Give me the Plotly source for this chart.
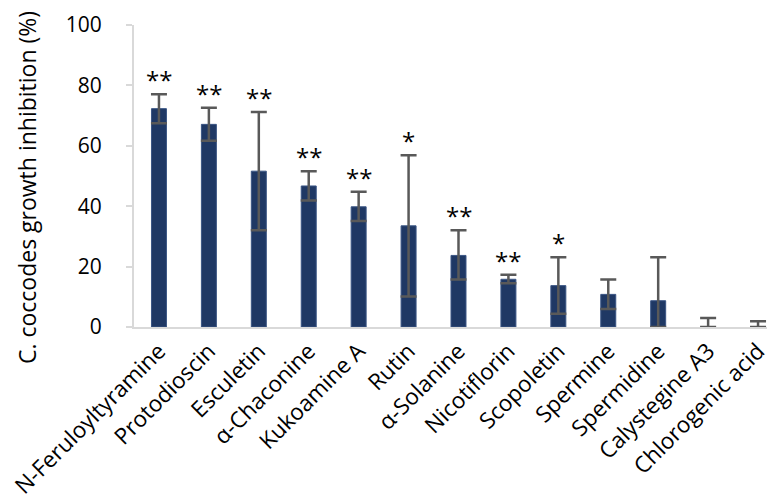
import plotly.graph_objects as go

categories = ["N-Feruloyltyramine", "Protodioscin", "Esculetin", "α-Chaconine",
              "Kukoamine A", "Rutin", "α-Solanine", "Nicotiflorin", "Scopoletin",
              "Spermine", "Spermidine", "Calystegine A3", "Chlorogenic acid"]
values = [72.3, 67.1, 51.6, 46.7, 39.8, 33.5, 23.7, 15.8, 13.7, 10.8, 8.7, 0.0, 0.0]
err_plus = [4.8, 5.5, 19.6, 4.9, 5.0, 23.4, 8.3, 1.5, 9.4, 4.9, 14.4, 3.0, 1.9]
err_minus = [4.8, 5.4, 19.6, 4.8, 4.7, 23.4, 8.0, 1.3, 9.3, 4.8, 8.7, 0.0, 0.0]
signif = ["**", "**", "**", "**", "**", "*", "**", "**", "*", "", "", "", ""]
y_title = "C. coccodes growth inhibition (%)"

FONT = "Open Sans"

fig = go.Figure()
fig.add_trace(go.Bar(
    x=categories, y=values,
    marker=dict(color="#1f3864", line=dict(color="#3a5584", width=1)),
    error_y=dict(type="data", symmetric=False, array=err_plus, arrayminus=err_minus,
                 color="#595959", thickness=2.5, width=8),
    width=0.3,
))

for c, v, e, s in zip(categories, values, err_plus, signif):
    if s:
        fig.add_annotation(x=c, y=v + e, text=s, showarrow=False, yanchor="bottom",
                           yshift=-4, font=dict(family=FONT, size=24, color="#000000"))

fig.add_annotation(xref="paper", yref="paper", x=-107 / 649, y=0.46, text=y_title,
                   textangle=-90, showarrow=False, xanchor="center", yanchor="middle",
                   font=dict(family=FONT, size=23, color="#000000"))

fig.update_layout(
    width=775, height=502,
    margin=dict(l=126, r=0, t=17, b=183, autoexpand=False),
    paper_bgcolor="white", plot_bgcolor="white",
    showlegend=False,
    font=dict(family=FONT, color="#000000"),
    xaxis=dict(showline=True, linecolor="#d9d9d9", linewidth=2, ticks="",
               tickangle=-45, tickfont=dict(size=22.5, family=FONT, color="#000000"),
               showgrid=False, automargin=False),
    yaxis=dict(range=[0, 100], dtick=20, showline=True, linecolor="#d9d9d9", linewidth=2,
               ticks="outside", ticklen=6, tickcolor="#d9d9d9", tickwidth=2,
               ticklabelstandoff=20,
               tickfont=dict(size=21, family=FONT, color="#000000"), showgrid=False,
               zeroline=False, automargin=False),
)

fig.write_html("out.html")
